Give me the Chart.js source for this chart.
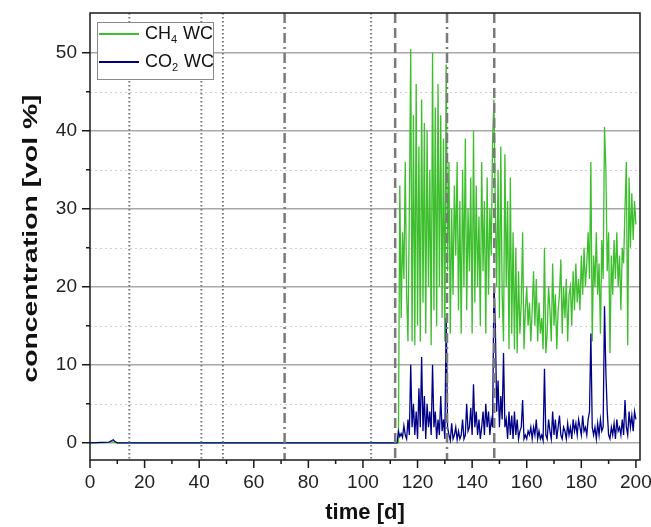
<!DOCTYPE html>
<html>
<head>
<meta charset="utf-8">
<script src="https://cdn.jsdelivr.net/npm/chart.js@4.4.1/dist/chart.umd.min.js"></script>
<style>
  html, body { margin: 0; padding: 0; background: #fff; }
</style>
</head>
<body>
<canvas id="chart" width="651" height="527"></canvas>
<script>
// time in days
const days = [0, 4, 7, 7.5, 8, 8.5, 9, 9.5, 10, 20, 50, 80, 112.5,
  113, 113.5, 114, 114.5, 115, 115.5, 116, 116.5, 117, 117.5,
  118, 118.5, 119, 119.5, 120, 120.5, 121, 121.5, 122, 122.5,
  123, 123.5, 124, 124.5, 125, 125.5, 126, 126.5, 127, 127.5,
  128, 128.5, 129, 129.5, 130, 130.5, 131, 131.5, 132, 132.5,
  133, 133.5, 134, 134.5, 135, 135.5, 136, 136.5, 137, 137.5,
  138, 138.5, 139, 139.5, 140, 140.5, 141, 141.5, 142, 142.5,
  143, 143.5, 144, 144.5, 145, 145.5, 146, 146.5, 147, 147.5,
  148, 148.5, 149, 149.5, 150, 150.5, 151, 151.5, 152, 152.5,
  153, 153.5, 154, 154.5, 155, 155.5, 156, 156.5, 157, 157.5,
  158, 158.5, 159, 159.5, 160, 160.5, 161, 161.5, 162, 162.5,
  163, 163.5, 164, 164.5, 165, 165.5, 166, 166.5, 167, 167.5,
  168, 168.5, 169, 169.5, 170, 170.5, 171, 171.5, 172, 172.5,
  173, 173.5, 174, 174.5, 175, 175.5, 176, 176.5, 177, 177.5,
  178, 178.5, 179, 179.5, 180, 180.5, 181, 181.5, 182, 182.5,
  183, 183.5, 184, 184.5, 185, 185.5, 186, 186.5, 187, 187.5,
  188, 188.5, 189, 189.5, 190, 190.5, 191, 191.5, 192, 192.5,
  193, 193.5, 194, 194.5, 195, 195.5, 196, 196.5, 197, 197.5,
  198, 198.5, 199, 199.5, 200];

// CH4 WC [vol %]
const ch4 = [0, 0, 0.05, 0.1, 0.15, 0.1, 0.05, 0, 0, 0, 0, 0, 0,
  0, 33, 16, 27, 21, 36, 19, 13, 30, 50.5,
  13, 42, 12.5, 46, 15, 38, 13, 44, 18, 41,
  14, 40, 20, 35, 12.5, 50, 17, 43, 15, 46,
  20, 42, 16, 39, 13, 48.5, 22, 36, 14, 30,
  19, 33, 24, 36, 17, 31, 14, 35, 20, 39,
  17, 30, 22, 34, 14, 40, 18, 33, 20, 29,
  15, 36, 22, 31, 14, 34, 19, 30, 24, 39,
  44, 30, 20, 35, 16, 38, 19, 13, 37, 20,
  31, 12, 34, 14, 27, 12, 25, 11.5, 22, 14,
  18, 27, 12, 17, 20, 15, 18, 13, 17, 22,
  15, 21, 13, 18, 14, 16, 12, 25, 11.5, 14,
  20, 17, 13, 23, 15, 19, 12, 17, 19, 23.5,
  14, 20, 16, 21, 13, 19, 20, 15, 22, 17,
  23, 18, 21, 17, 24, 19, 25, 20, 23, 27,
  21, 36, 13, 24, 20, 27, 19, 23, 14, 26,
  21, 40.5, 35, 22, 27, 11.5, 24, 19, 26, 21,
  27, 20, 24, 17, 25, 23, 30, 36, 12.5, 34,
  25, 32, 26, 31, 28];

// CO2 WC [vol %]
const co2 = [0, 0.05, 0.1, 0.2, 0.3, 0.4, 0.2, 0.1, 0, 0, 0, 0, 0,
  1.5, 0.8, 1.2, 0.7, 2.2, 1, 0.5, 3, 1, 10,
  2, 5, 1, 4, 0.5, 7, 2, 11, 1.5, 6,
  0.5, 5, 2, 4, 1, 10, 2, 4, 0.5, 3,
  1, 6, 1.5, 3, 0.5, 16, 2, 1, 0.3, 2.5,
  0.5, 1, 2, 0.4, 1.5, 0.5, 1, 3, 0.5, 1,
  5, 1.5, 2, 4.5, 1, 7.5, 2, 4, 1, 3,
  0.5, 2, 4, 1, 5, 2, 4, 1, 3, 2,
  20.5, 15, 4, 8, 2, 6, 3, 11.5, 2, 3,
  0.5, 4, 1, 3.5, 0.5, 4, 1, 3, 0.5, 1.5,
  2, 5.5, 0.5, 1, 0.5, 1.5, 1, 2, 0.5, 2,
  1, 3, 0.5, 1.5, 0.5, 1, 0.3, 9.5, 1, 0.5,
  3, 1.5, 0.5, 4, 1, 3, 0.5, 2, 3.5, 1,
  0.5, 2, 1.5, 0.5, 2.5, 1, 2, 0.5, 3, 1.5,
  2.5, 1, 3, 2, 1, 3.5, 1.5, 2, 1, 3,
  4, 14, 2, 1, 2, 0.5, 2.5, 1, 3, 1.5,
  2, 17.5, 9, 4, 1, 0.5, 2, 1, 2.5, 0.5,
  3, 1.5, 2, 1, 3, 1, 5.5, 2, 1, 4,
  2, 3.5, 1.5, 4, 3];

// event markers (days) and their line type
const markerDays = [14.4, 40.8, 48.7, 71.3, 103, 111.8, 130.8, 148.1];
const markerTypes = ['dot', 'dot', 'dot', 'dashdot', 'dot', 'dash', 'dashdot', 'dash'];

const xTicks = [0, 20, 40, 60, 80, 100, 120, 140, 160, 180, 200];
const xMinor = [10, 30, 50, 70, 90, 110, 130, 150, 170, 190];
const yTicks = [0, 10, 20, 30, 40, 50];
const yMinor = [5, 15, 25, 35, 45];

const yTitle = 'concentration [vol %]';

const FONT = '"Liberation Sans", Arial, sans-serif';
const GREEN = 'rgb(60,190,45)';
const NAVY = 'rgb(0,0,135)';

const dashes = { dot: [1.5, 2.5], dash: [10, 5], dashdot: [10, 4, 2, 4] };

const decor = {
  id: 'decor',
  beforeDatasetsDraw(chart) {
    const { ctx, chartArea: a, scales: { y } } = chart;
    ctx.save();
    ctx.lineWidth = 1;
    ctx.strokeStyle = '#d0d0d0';
    ctx.setLineDash([2, 3]);
    yMinor.forEach(v => {
      const py = Math.round(y.getPixelForValue(v)) + 0.5;
      ctx.beginPath(); ctx.moveTo(a.left, py); ctx.lineTo(a.right, py); ctx.stroke();
    });
    ctx.setLineDash([]);
    ctx.strokeStyle = '#a8a8a8';
    ctx.lineWidth = 1.5;
    yTicks.forEach(v => {
      const py = y.getPixelForValue(v);
      ctx.beginPath(); ctx.moveTo(a.left, py); ctx.lineTo(a.right, py); ctx.stroke();
    });
    ctx.restore();
  },
  afterDatasetsDraw(chart) {
    const { ctx, chartArea: a, scales: { x, y } } = chart;
    ctx.save();
    // event markers
    markerDays.forEach((d, i) => {
      const t = markerTypes[i];
      const px = x.getPixelForValue(d);
      ctx.strokeStyle = '#7a7a7a';
      ctx.lineWidth = t === 'dot' ? 2 : 2.5;
      ctx.setLineDash(dashes[t]);
      ctx.beginPath(); ctx.moveTo(px, a.top); ctx.lineTo(px, a.bottom); ctx.stroke();
    });
    ctx.setLineDash([]);
    // frame
    ctx.strokeStyle = '#1a1a1a';
    ctx.lineWidth = 1.5;
    ctx.strokeRect(a.left, a.top, a.right - a.left, a.bottom - a.top);
    // ticks
    ctx.beginPath();
    xTicks.forEach(v => { const p = x.getPixelForValue(v); ctx.moveTo(p, a.bottom); ctx.lineTo(p, a.bottom + 8); });
    xMinor.forEach(v => { const p = x.getPixelForValue(v); ctx.moveTo(p, a.bottom); ctx.lineTo(p, a.bottom + 4); });
    yTicks.forEach(v => { const p = y.getPixelForValue(v); ctx.moveTo(a.left, p); ctx.lineTo(a.left - 8, p); });
    yMinor.forEach(v => { const p = y.getPixelForValue(v); ctx.moveTo(a.left, p); ctx.lineTo(a.left - 4, p); });
    ctx.stroke();
    // y axis title (wide lettering as in the original figure)
    ctx.save();
    ctx.translate(31, (a.top + a.bottom) / 2 + 2);
    ctx.rotate(-Math.PI / 2);
    ctx.font = 'bold 21px ' + FONT;
    const w = ctx.measureText(yTitle).width;
    ctx.scale(288 / w, 1);
    ctx.fillStyle = '#111';
    ctx.textAlign = 'center';
    ctx.textBaseline = 'middle';
    ctx.fillText(yTitle, 0, 0);
    ctx.restore();
    // legend
    const bx = a.left + 7, by = a.top + 9, bw = 116, bh = 57;
    ctx.fillStyle = '#fff';
    ctx.fillRect(bx, by, bw, bh);
    ctx.strokeStyle = '#8a8a8a';
    ctx.lineWidth = 1;
    ctx.strokeRect(bx + 0.5, by + 0.5, bw, bh);
    const items = [['CH', '4', GREEN, 12], ['CO', '2', NAVY, 40]];
    items.forEach(([base, sub, col, dy]) => {
      const ly = by + dy;
      ctx.strokeStyle = col;
      ctx.lineWidth = 2;
      ctx.beginPath(); ctx.moveTo(bx + 2, ly); ctx.lineTo(bx + 42, ly); ctx.stroke();
      ctx.fillStyle = '#111';
      ctx.textBaseline = 'middle';
      ctx.font = '18px ' + FONT;
      let tx = bx + 48;
      ctx.fillText(base, tx, ly);
      tx += ctx.measureText(base).width;
      ctx.font = '11px ' + FONT;
      ctx.fillText(sub, tx, ly + 6);
      tx += ctx.measureText(sub).width + 1;
      ctx.font = '18px ' + FONT;
      ctx.fillText(' WC', tx, ly);
    });
    ctx.restore();
  }
};

new Chart(document.getElementById('chart'), {
  type: 'line',
  data: {
    datasets: [
      {
        label: 'CO2 WC',
        data: days.map((d, i) => ({ x: d, y: co2[i] })),
        borderColor: NAVY,
        borderWidth: 1.3,
        pointRadius: 0,
        order: 0
      },
      {
        label: 'CH4 WC',
        data: days.map((d, i) => ({ x: d, y: ch4[i] })),
        borderColor: GREEN,
        borderWidth: 1.3,
        pointRadius: 0,
        order: 1
      }
    ]
  },
  options: {
    responsive: false,
    animation: false,
    devicePixelRatio: 1,
    layout: { padding: { left: 0, right: 11, top: 13, bottom: 0 } },
    plugins: { legend: { display: false }, tooltip: { enabled: false } },
    scales: {
      x: {
        type: 'linear',
        min: 0,
        max: 201.5,
        afterBuildTicks: s => { s.ticks = xTicks.map(v => ({ value: v })); },
        afterFit: s => { s.height = 67; s.paddingLeft = 0; s.paddingRight = 0; },
        ticks: { font: { family: FONT, size: 19 }, color: '#222', padding: 3, maxRotation: 0, autoSkip: false },
        grid: { drawOnChartArea: false, tickLength: 8, color: 'rgba(0,0,0,0)' },
        border: { display: false },
        title: { display: true, text: 'time [d]', color: '#111', font: { family: FONT, size: 22, weight: 'bold' }, padding: { top: 0, bottom: 1 } }
      },
      y: {
        type: 'linear',
        min: -2.2,
        max: 55.1,
        afterBuildTicks: s => { s.ticks = yTicks.map(v => ({ value: v })); },
        afterFit: s => { s.width = 90; s.paddingTop = 0; s.paddingBottom = 0; },
        ticks: { font: { family: FONT, size: 19 }, color: '#222', padding: 4 },
        grid: { drawOnChartArea: false, tickLength: 9, color: 'rgba(0,0,0,0)' },
        border: { display: false },
        title: { display: false }
      }
    }
  },
  plugins: [decor]
});
</script>
</body>
</html>
